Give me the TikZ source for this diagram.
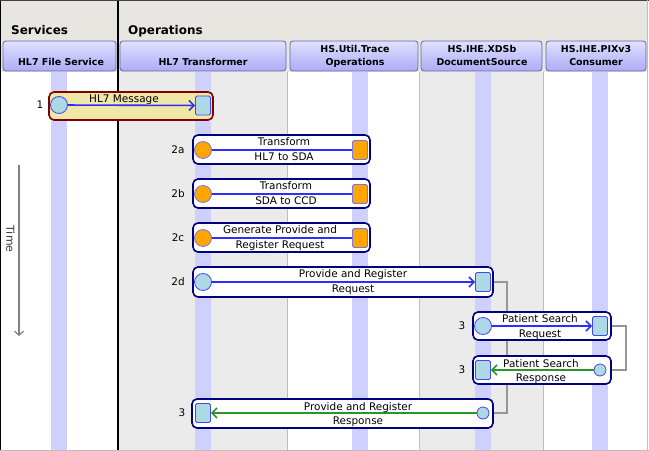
\documentclass[tikz,border=0pt]{standalone}
\usepackage{fontspec}
\setmainfont{DejaVu Sans}
\usetikzlibrary{arrows.meta}
\pgfdeclarelayer{bg}
\pgfdeclarelayer{conn}
\pgfsetlayers{bg,conn,main}
\definecolor{band}{RGB}{232,230,225}
\definecolor{colgray}{RGB}{235,235,235}
\definecolor{sepgray}{RGB}{190,190,190}
\definecolor{life}{RGB}{208,208,255}
\definecolor{hdtop}{RGB}{224,224,255}
\definecolor{hdbot}{RGB}{172,172,246}
\definecolor{hdline}{RGB}{100,100,170}
\definecolor{navybox}{RGB}{0,0,128}
\definecolor{khaki}{RGB}{240,230,165}
\definecolor{darkred}{RGB}{128,0,0}
\definecolor{ltblue}{RGB}{173,216,230}
\definecolor{arrblue}{RGB}{45,45,255}
\definecolor{shapeblue}{RGB}{70,70,240}
\definecolor{orline}{RGB}{120,120,230}
\definecolor{arrgreen}{RGB}{40,150,40}
\definecolor{orng}{RGB}{255,165,0}
\definecolor{conngray}{RGB}{150,150,150}
\definecolor{timegray}{RGB}{128,128,128}
\definecolor{timetext}{RGB}{60,60,60}
\newcommand\mlab[6]{% name, x, top y, line1, line2, second offset
  \node[lbl] (#1u) at (#2,#3+11) {#4};
  \node[lbl] (#1l) at (#2,#3+#6) {#5};}
\begin{document}
\begin{tikzpicture}[x=1bp,y=-1bp,
  lbl/.style={anchor=base, inner sep=0, font=\fontsize{10.5}{12}\selectfont},
  hdtxt/.style={anchor=base, inner sep=0, font=\bfseries\fontsize{9.5}{11}\selectfont},
  sect/.style={anchor=base west, inner sep=0, font=\bfseries\fontsize{12}{14}\selectfont},
  num/.style={inner sep=0, font=\fontsize{10.5}{12}\selectfont},
  colhead/.style={draw=hdline, line width=0.8bp, rounded corners=3bp, top color=hdtop, bottom color=hdbot, inner sep=0},
  msgbox/.style={draw=navybox, line width=1.6bp, rounded corners=5bp, fill=white, inner sep=0},
  firstbox/.style={msgbox, fill=khaki, draw=darkred},
  bigc/.style={circle, minimum size=17bp, inner sep=0, fill=ltblue, draw=shapeblue, line width=0.8bp},
  smallc/.style={circle, minimum size=12bp, inner sep=0, fill=ltblue, draw=shapeblue, line width=0.8bp},
  orc/.style={bigc, fill=orng, draw=orline},
  sq/.style={rectangle, rounded corners=1.5bp, minimum width=15bp, minimum height=19bp, inner sep=0, fill=ltblue, draw=shapeblue, line width=0.8bp},
  orsq/.style={sq, fill=orng, draw=orline},
  msgline/.style={draw=arrblue, line width=1.6bp},
  msgarrow/.style={msgline, -{Straight Barb[length=5bp,width=10bp,line width=1.6bp]}},
  retarrow/.style={draw=arrgreen, line width=1.6bp, -{Straight Barb[length=5bp,width=10bp,line width=1.6bp]}},
  connline/.style={draw=conngray, line width=1.5bp},
  timearrow/.style={draw=timegray, line width=1.2bp, -{Straight Barb[length=4bp,width=9bp,line width=1.2bp]}}
]
\useasboundingbox (0,0) rectangle (649,451);
\begin{pgfonlayer}{bg}
  \fill[white] (0,0) rectangle (649,451);
  \fill[band] (0,0) rectangle (648,72);
  \fill[colgray] (118,72) rectangle (287,450);
  \fill[colgray] (419,72) rectangle (543,450);
  \draw[sepgray, line width=1bp] (287,72) -- (287,450);
  \draw[sepgray, line width=1bp] (419,72) -- (419,450);
  \draw[sepgray, line width=1bp] (543,72) -- (543,450);
  \fill[life] (51,72) rectangle (67,450);
  \fill[life] (195,72) rectangle (211,450);
  \fill[life] (352,72) rectangle (368,450);
  \fill[life] (475,72) rectangle (491,450);
  \fill[life] (592,72) rectangle (608,450);
  \draw[black, line width=1.3bp] (118,0) -- (118,450);
  \draw[black, line width=1.2bp] (0.6,0) -- (0.6,451);
  \draw[black!75, line width=1bp] (0,0.5) -- (649,0.5);
  \draw[sepgray, line width=1.2bp] (647.6,0) -- (647.6,451);
  \draw[sepgray, line width=1.2bp] (0,450.4) -- (649,450.4);
\end{pgfonlayer}

% section titles
\node[sect] (svc) at (11,35) {Services};
\node[sect] (ops) at (128,35) {Operations};

% column headers
\node[colhead, minimum width=113bp, minimum height=30bp] (h1) at (59.5,56) {};
\node[colhead, minimum width=166bp, minimum height=30bp] (h2) at (203,56) {};
\node[colhead, minimum width=128bp, minimum height=30bp] (h3) at (354,56) {};
\node[colhead, minimum width=121bp, minimum height=30bp] (h4) at (481.5,56) {};
\node[colhead, minimum width=100bp, minimum height=30bp] (h5) at (596,56) {};
\node[hdtxt] (h1t) at (61,66) {HL7 File Service};
\node[hdtxt] (h2t) at (203,66) {HL7 Transformer};
\node[hdtxt] (h3a) at (355,53) {HS.Util.Trace};
\node[hdtxt] (h3b) at (355,66) {Operations};
\node[hdtxt] (h4a) at (482,53) {HS.IHE.XDSb};
\node[hdtxt] (h4b) at (482,66) {DocumentSource};
\node[hdtxt] (h5a) at (596,53) {HS.IHE.PIXv3};
\node[hdtxt] (h5b) at (596,66) {Consumer};

% time arrow
\coordinate (t0) at (19,165);
\coordinate (t1) at (19,336);
\draw[timearrow] (t0) -- (t1);
\node[rotate=-90, inner sep=0, text=timetext, font=\fontsize{11}{12}\selectfont] (time) at (10.5,239) {Time};

% message 1
\node[firstbox, minimum width=164bp, minimum height=28bp] (b1) at (131,106) {};
\node[bigc] (c1) at (59,105) {};
\node[sq] (s1) at (203,105.5) {};
\draw[msgarrow] (c1) -- (s1);
\node[lbl] (l1) at (124,103) {HL7 Message};
\node[num] (n1) at (40,105) {1};

% message 2a
\node[msgbox, minimum width=177bp, minimum height=29bp] (b2a) at (281.5,149.5) {};
\node[orc] (c2a) at (203,150) {};
\node[orsq] (s2a) at (360,150) {};
\draw[msgline] (c2a) -- (s2a);
\mlab{l2a}{284}{135}{Transform}{HL7 to SDA}{26}
\node[num] (n2a) at (178,150) {2a};

% message 2b
\node[msgbox, minimum width=177bp, minimum height=29bp] (b2b) at (281.5,193.5) {};
\node[orc] (c2b) at (203,194) {};
\node[orsq] (s2b) at (360,194) {};
\draw[msgline] (c2b) -- (s2b);
\mlab{l2b}{286}{179}{Transform}{SDA to CCD}{26}
\node[num] (n2b) at (178,194) {2b};

% message 2c
\node[msgbox, minimum width=177bp, minimum height=29bp] (b2c) at (281.5,237.5) {};
\node[orc] (c2c) at (203,238) {};
\node[orsq] (s2c) at (360,238) {};
\draw[msgline] (c2c) -- (s2c);
\mlab{l2c}{280}{223}{Generate Provide and}{Register Request}{26}
\node[num] (n2c) at (178,238) {2c};

% message 2d
\node[msgbox, minimum width=300bp, minimum height=30bp] (b2d) at (343,282) {};
\node[bigc] (c2d) at (203,282) {};
\node[sq] (s2d) at (483,282) {};
\draw[msgarrow] (c2d) -- (s2d);
\mlab{l2d}{353}{267}{Provide and Register}{Request}{26}
\node[num] (n2d) at (178,282) {2d};

% message 3: patient search request
\node[msgbox, minimum width=138bp, minimum height=28bp] (b3a) at (542,326) {};
\node[bigc] (c3a) at (483,326) {};
\node[sq] (s3a) at (600,326) {};
\draw[msgarrow] (c3a) -- (s3a);
\mlab{l3a}{540}{312}{Patient Search}{Request}{25}
\node[num] (n3a) at (462,326) {3};

% message 3: patient search response
\node[msgbox, minimum width=138bp, minimum height=28bp] (b3b) at (542,370) {};
\node[smallc] (c3b) at (600,370) {};
\node[sq] (s3b) at (483,370) {};
\draw[retarrow] (c3b) -- (s3b);
\mlab{l3b}{541}{356}{Patient Search}{Response}{25}
\node[num] (n3b) at (462,370) {3};

% message 3: provide and register response
\node[msgbox, minimum width=301bp, minimum height=29bp] (b3c) at (342.5,413.5) {};
\node[smallc] (c3c) at (483,413) {};
\node[sq] (s3c) at (203,413) {};
\draw[retarrow] (c3c) -- (s3c);
\mlab{l3c}{358}{399}{Provide and Register}{Response}{25}
\node[num] (n3c) at (182,413) {3};

% gray connectors behind boxes
\begin{pgfonlayer}{conn}
  \draw[connline] (s2d.east) -- ++(16,0) |- (c3c.east);
  \draw[connline] (s3a.east) -- ++(18,0) |- (c3b.east);
\end{pgfonlayer}
\end{tikzpicture}
\end{document}
